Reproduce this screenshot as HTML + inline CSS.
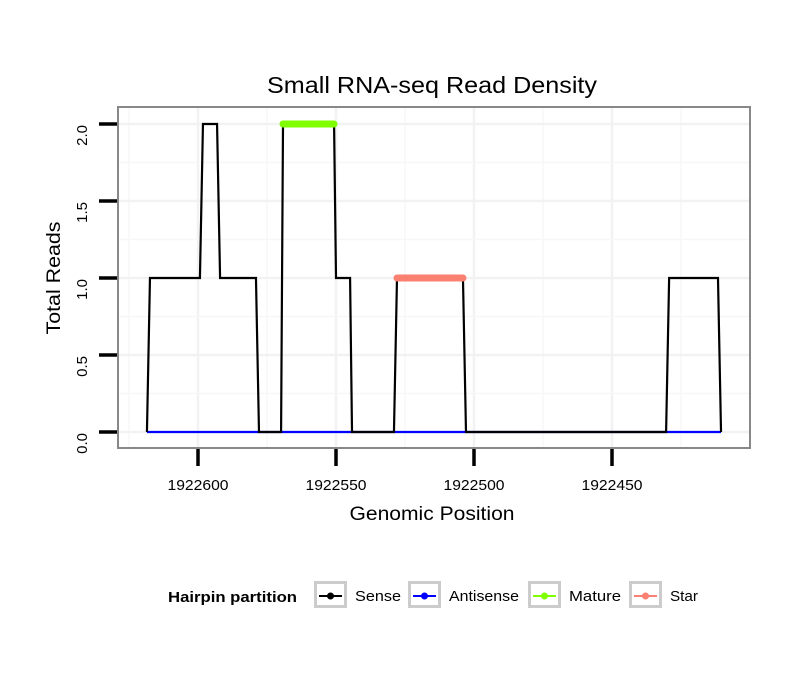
<!DOCTYPE html>
<html><head><meta charset="utf-8"><style>
body{margin:0;background:#fff;}
text{font-family:"Liberation Sans",sans-serif;}
</style></head><body>
<svg id="c" width="810" height="690" xmlns="http://www.w3.org/2000/svg">
<rect width="810" height="690" fill="#fff"/>
<text x="432" y="93" font-size="23" text-anchor="middle" textLength="330" lengthAdjust="spacingAndGlyphs">Small RNA-seq Read Density</text>
<g id="grid"></g>
<g id="series"></g>
<rect x="118" y="107" width="632" height="341" fill="none" stroke="#888" stroke-width="2"/>
<g id="axes"></g>
<text x="432" y="520" font-size="19" text-anchor="middle" textLength="165" lengthAdjust="spacingAndGlyphs">Genomic Position</text>
<text transform="translate(60,278) rotate(-90)" font-size="19" text-anchor="middle" textLength="113" lengthAdjust="spacingAndGlyphs">Total Reads</text>
<g id="legend">
<text x="168" y="602" font-size="15" font-weight="bold" textLength="129" lengthAdjust="spacingAndGlyphs">Hairpin partition</text>
</g>
</svg>
<script>
const senseX=[1922618.5,1922617.4,1922599.3,1922598.2,1922593.1,1922592,1922579,1922577.9,1922569.9,1922569.2,1922550.7,1922550,1922544.9,1922544.2,1922529,1922527.9,1922504,1922502.9,1922430.4,1922429.3,1922411.6,1922410.5];
const senseY=[0,1,1,2,2,1,1,0,0,2,2,1,1,0,0,1,1,0,0,1,1,0];
const antisenseX=[1922618.5,1922410.5];
const antisenseY=[0,0];
const matureX=[1922569.2,1922550.7];
const matureY=[2,2];
const starX=[1922527.9,1922504];
const starY=[1,1];
const xTicks=[1922600,1922550,1922500,1922450];
const yTicks=[0,0.5,1,1.5,2];
const yTickLabels=["0.0","0.5","1.0","1.5","2.0"];
const legendLabels=["Sense","Antisense","Mature","Star"];
const legendColors=["#000000","#0000ff","#7fff00","#fa8072"];

const xs=g=>198+(1922600-g)*2.76;
const ys=v=>432-v*154;
const NS="http://www.w3.org/2000/svg";
function mk(tag,attrs,parent){const e=document.createElementNS(NS,tag);for(const k in attrs)e.setAttribute(k,attrs[k]);parent.appendChild(e);return e;}
const grid=document.getElementById('grid'),series=document.getElementById('series'),axes=document.getElementById('axes'),legend=document.getElementById('legend');
for(let g=1922625;g>=1922400;g-=25){const x=xs(g);if(x<119||x>749)continue;
 const l=mk('line',{x1:x,x2:x,y1:108,y2:447,stroke:(g%50===0)?'#f2f2f2':'#f7f7f7','stroke-width':(g%50===0)?2.5:1.5},grid);
 
 }
for(let v=-0.25;v<=2.25;v+=0.25){const y=ys(v);if(y<108||y>447)continue;
 const maj=Math.abs(v*2-Math.round(v*2))<1e-6;
 const l=mk('line',{x1:119,x2:749,y1:y,y2:y,stroke:maj?'#f2f2f2':'#f7f7f7','stroke-width':maj?2.5:1.5},grid);
 
 }
function path(X,Y,color,w,name){const d=X.map((g,i)=>(i?'L':'M')+xs(g)+','+ys(Y[i])).join(' ');
 const p=mk('path',{d:d,fill:'none',stroke:color,'stroke-width':w,'stroke-linecap':w>3?'round':'butt','stroke-linejoin':'miter'},series);
 
 }
path(antisenseX,antisenseY,'#0000ff',2.2,'antisense-line');
path(senseX,senseY,'#000',2.2,'sense-line');
path(matureX,matureY,'#7fff00',7,'mature-line');
path(starX,starY,'#fa8072',7,'star-line');
xTicks.forEach(g=>{const x=xs(g);
 const t=mk('line',{x1:x,x2:x,y1:449,y2:466,stroke:'#000','stroke-width':3.5},axes);
 
 
 const tx=mk('text',{x:x,y:490,'font-size':15,'text-anchor':'middle',textLength:61,lengthAdjust:'spacingAndGlyphs'},axes);tx.textContent=g;
 
 });
yTicks.forEach((v,i)=>{const y=ys(v);
 const t=mk('line',{x1:99,x2:117,y1:y,y2:y,stroke:'#000','stroke-width':3.5},axes);
 
 
 const tx=mk('text',{transform:`translate(87,${y+1}) rotate(-90)`,'font-size':15,'text-anchor':'end'},axes);tx.textContent=yTickLabels[i];
 
 });
const kx=[314,408,528,629];
const tw=[46,70,52,28];
legendLabels.forEach((lab,i)=>{const x=kx[i];
 const g=mk('g',{},legend);
 
 
 mk('rect',{x:x+1.5,y:582.5,width:30,height:24,fill:'#fff',stroke:'#ccc','stroke-width':3},g);
 mk('line',{x1:x+5,x2:x+28,y1:596,y2:596,stroke:legendColors[i],'stroke-width':2},g);
 mk('circle',{cx:x+16.5,cy:596,r:3.5,fill:legendColors[i]},g);
 const t=mk('text',{x:x+41,y:601,'font-size':15,textLength:tw[i],lengthAdjust:'spacingAndGlyphs'},g);t.textContent=lab;});
</script>
</body></html>
